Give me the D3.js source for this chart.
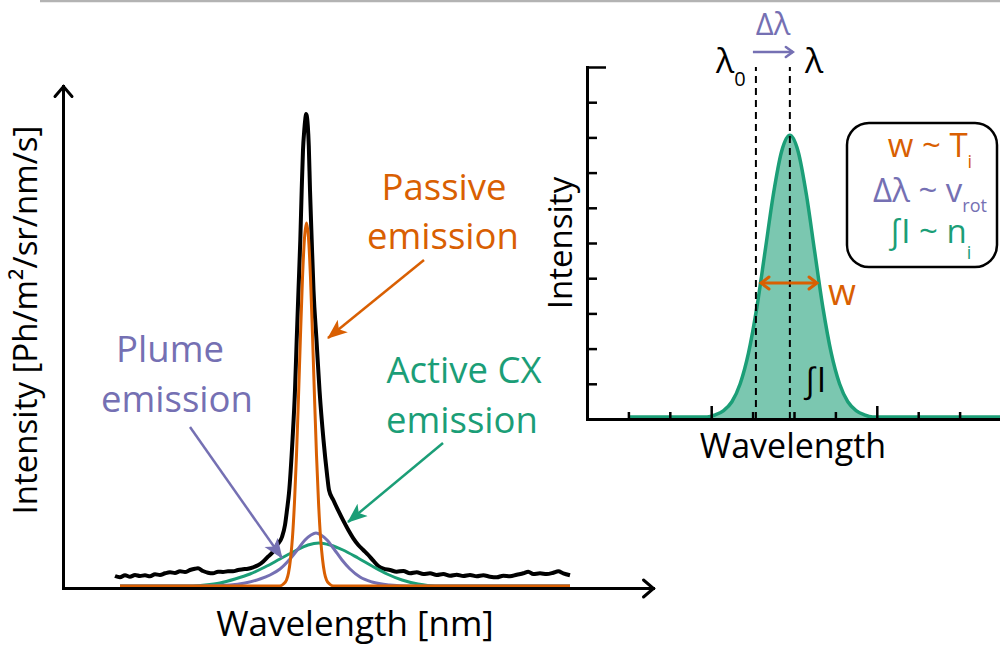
<!DOCTYPE html>
<html>
<head>
<meta charset="utf-8">
<script src="https://cdn.jsdelivr.net/npm/d3@7"></script>
<style>
  body { margin: 0; background: #fff; }
  svg text { font-family: "Open Sans", "DejaVu Sans", sans-serif; }
</style>
</head>
<body>
<script>
// ColorBrewer Dark2
var orange = "#d95f02", green = "#1b9e77", purple = "#7570b3";

// ---- left panel: measured spectrum + its three components, [wavelength, intensity] (arb. units)
var measured = [[50,10],[55,8.7],[60,10.7],[65,9.3],[70,11],[75,10],[80,10.7],[85,9.7],[90,11.7],[95,11],
  [100,12.7],[105,13.7],[110,13],[115,14.7],[120,14],[125,16],[130,17.3],[133,17.7],[138,15],[143,13.3],
  [148,12.7],[153,14.3],[158,14],[163,14.7],[168,14.7],[173,16],[178,16.7],[183,17.3],[188,18.7],[193,20.7],
  [198,24.3],[203,29.3],[208,34.3],[212,41],[217,49],[220,61],[222,76],[224,93],[227.5,146],[230,196],
  [231.7,246],[233.5,296],[235.3,346],[236.7,396],[238,436],[239.3,456],[240.3,467],[241,472],[241.8,470],
  [242.8,460],[243.8,440],[245,396],[246.7,346],[248.5,296],[251.5,246],[254.5,196],[258.5,146],[262,112],
  [264,96],[268.3,86],[273.3,75.3],[278.3,65.3],[283.3,56],[288.3,47.7],[293.3,41],[298.3,36],[303.3,31],
  [308.3,25.3],[313.3,20],[318.3,17.3],[325,16],[331.7,14.3],[338.3,15],[345,12.7],[351.7,13.7],[358.3,12],
  [365,12.7],[371.7,11],[378.3,12],[385,10.3],[391.7,11.3],[398.3,10],[405,11],[411.7,9.7],[418.3,10.7],
  [425,9.3],[431.7,8.7],[438.3,10.3],[445,9.7],[451.7,11.3],[458.3,12.7],[463.3,14.3],[468.3,12],[475,12.7],
  [481.7,12],[488.3,13.3],[493.3,14.7],[498.3,12.7],[505,10.7]];

var passive = [[55,0],[200,0],[214.5,0],[218.5,2],[221.5,6],[223.5,13],[225.5,27],[227.5,49],[229.5,84],
  [231.5,131],[233.5,189],[235.5,251],[237.5,308],[239.5,348],[241.5,363],[243.5,348],[245.5,308],
  [247.5,251],[249.5,189],[251.5,131],[253.5,84],[255.5,49],[257.5,27],[259.5,13],[261.5,6],[264.5,2],
  [268.5,0],[505,0]];

var plume = [[55,0],[135,0],[165,1],[180,3],[195,7],[205,11],[215,17],[225,27],[233,37],[240,46],[246,51],
  [251,53],[256,51],[262,46],[269,37],[277,26],[285,17],[295,9],[307,4],[325,1],[345,0],[505,0]];

var activeCX = [[55,0],[125,0],[140,1],[155,3],[170,7],[185,12],[200,19],[215,27],[230,35],[243,41],
  [254,43],[265,41],[278,36],[293,28],[307,20],[322,12],[337,6],[353,2],[370,0],[505,0]];

// ---- right panel: single gaussian sketch
var gaussX = [1.0, 2.9, 3.1, 3.3, 3.5, 3.7, 3.9, 4.1, 4.3, 4.5, 4.7, 4.9, 5.1, 5.3, 5.5, 5.7, 5.9, 6.1, 6.3, 6.5, 6.7, 6.9, 10.0];
var gaussY = [0.06, 0.06, 0.12, 0.24, 0.49, 1.00, 1.87, 3.15, 4.75, 6.37, 7.60, 8.06, 7.60, 6.37, 4.75, 3.15, 1.87, 1.00, 0.49, 0.24, 0.12, 0.06, 0.06];
var lambda0 = 4.08, lambdaShift = 4.9;
var rightYTicks = [1, 2, 3, 4, 5, 6, 7, 8, 9, 10];
var rightXTicks = [1, 2, 3, 4, 5, 6, 7, 8, 9];
var rightXMajor = [3, 7];

var svg = d3.select("body").append("svg")
    .attr("width", 1000)
    .attr("height", 645);

// top rule
svg.append("line").attr("x1", 40).attr("x2", 1000).attr("y1", 1).attr("y2", 1)
    .attr("stroke", "#b3b3b3").attr("stroke-width", 2.5);

var defs = svg.append("defs");

function chevron(id, color, len, half, sw) {
  defs.append("marker").attr("id", id)
    .attr("markerUnits", "userSpaceOnUse")
    .attr("viewBox", [-sw, -half - sw, len + 2 * sw, 2 * half + 2 * sw].join(" "))
    .attr("markerWidth", len + 2 * sw).attr("markerHeight", 2 * half + 2 * sw)
    .attr("refX", len).attr("refY", 0)
    .attr("orient", "auto-start-reverse")
    .append("path").attr("d", "M0," + (-half) + "L" + len + ",0L0," + half)
    .attr("fill", "none").attr("stroke", color).attr("stroke-width", sw)
    .attr("stroke-linecap", "round");
}
function triHead(id, color) {
  defs.append("marker").attr("id", id)
    .attr("markerUnits", "userSpaceOnUse")
    .attr("viewBox", "0 -9 20 18").attr("markerWidth", 20).attr("markerHeight", 18)
    .attr("refX", 19).attr("refY", 0).attr("orient", "auto")
    .append("path").attr("d", "M0,-8L20,0L0,8L5,0Z").attr("fill", color);
}
chevron("axisArrow", "#000", 10, 8.5, 3);
chevron("purpleChev", purple, 7, 5, 2.5);
chevron("orangeChev", orange, 8, 6, 3);
triHead("triOrange", orange);
triHead("triPurple", purple);
triHead("triGreen", green);

// ================= left panel =================
var xL = d3.scaleLinear().domain([-2, 588]).range([63, 653]);
var yL = d3.scaleLinear().domain([-2, 500]).range([588, 86]);

var lineL = d3.line()
    .x(function(d) { return xL(d[0]); })
    .y(function(d) { return yL(d[1]); })
    .curve(d3.curveMonotoneX);

function drawSpectrum(data, color, w) {
  svg.append("path").datum(data)
    .attr("d", lineL)
    .attr("fill", "none")
    .attr("stroke", color)
    .attr("stroke-width", w)
    .attr("stroke-linejoin", "round");
}
drawSpectrum(measured, "#000", 4);
drawSpectrum(activeCX, green, 3);
drawSpectrum(plume, purple, 3);
drawSpectrum(passive, orange, 3);

var gxL = svg.append("g").attr("transform", "translate(0,588)")
    .call(d3.axisBottom(xL).ticks(0).tickSizeOuter(0));
var gyL = svg.append("g").attr("transform", "translate(63,0)")
    .call(d3.axisLeft(yL).ticks(0).tickSizeOuter(0));
[gxL, gyL].forEach(function(g) {
  g.select(".domain").attr("stroke-width", 3).attr("stroke-linecap", "square")
    .attr("marker-end", "url(#axisArrow)");
});

svg.append("text").attr("x", 355).attr("y", 636).attr("text-anchor", "middle")
    .attr("font-size", 35).text("Wavelength [nm]");
svg.append("text").attr("transform", "translate(37,320) rotate(-90)").attr("text-anchor", "middle")
    .attr("font-size", 33).text("Intensity [Ph/m\u00b2/sr/nm/s]");

function label(lines, color) {
  lines.forEach(function(l) {
    svg.append("text").attr("x", l[0]).attr("y", l[1]).attr("text-anchor", "middle")
      .attr("font-size", 36.5).attr("fill", color).text(l[2]);
  });
}
label([[444, 200, "Passive"], [443, 249, "emission"]], orange);
label([[170, 362, "Plume"], [177, 412, "emission"]], purple);
label([[464, 383, "Active CX"], [462, 433, "emission"]], green);

function pointer(x1, y1, x2, y2, color, marker) {
  svg.append("line").attr("x1", x1).attr("y1", y1).attr("x2", x2).attr("y2", y2)
    .attr("stroke", color).attr("stroke-width", 2.5)
    .attr("marker-end", "url(#" + marker + ")");
}
pointer(424, 260, 328, 338, orange, "triOrange");
pointer(190, 427, 282, 558, purple, "triPurple");
pointer(443, 443, 348, 522, green, "triGreen");

// ================= right panel =================
var xR = d3.scaleLinear().domain([0, 10]).range([587, 1001]);
var yR = d3.scaleLinear().domain([0, 10]).range([419, 67]);

var gauss = gaussX.map(function(x, i) { return [x, gaussY[i]]; });

svg.append("path").datum(gauss)
    .attr("d", d3.area()
      .x(function(d) { return xR(d[0]); })
      .y0(yR(0))
      .y1(function(d) { return yR(d[1]); })
      .curve(d3.curveMonotoneX))
    .attr("fill", green).attr("fill-opacity", 0.58);
svg.append("path").datum(gauss)
    .attr("d", d3.line()
      .x(function(d) { return xR(d[0]); })
      .y(function(d) { return yR(d[1]); })
      .curve(d3.curveMonotoneX))
    .attr("fill", "none").attr("stroke", green).attr("stroke-width", 3.5);

[lambda0, lambdaShift].forEach(function(l) {
  svg.append("line").attr("x1", xR(l)).attr("x2", xR(l)).attr("y1", yR(0)).attr("y2", yR(10))
    .attr("stroke", "#000").attr("stroke-width", 2).attr("stroke-dasharray", "7,5");
});

var gyR = svg.append("g").attr("transform", "translate(587,0)")
    .call(d3.axisLeft(yR).tickValues(rightYTicks).tickSize(-10).tickSizeOuter(0).tickFormat(""));
gyR.selectAll(".tick line").attr("stroke-width", 2.5)
    .attr("x2", function(d) { return d === 10 ? 19 : 10; });
var gxR = svg.append("g").attr("transform", "translate(0,419)")
    .call(d3.axisBottom(xR).tickValues(rightXTicks).tickSize(-7).tickSizeOuter(0).tickFormat(""));
gxR.selectAll(".tick line").attr("stroke-width", 2.5)
    .attr("y2", function(d) { return rightXMajor.indexOf(d) >= 0 ? -13 : -7; });
[gxR, gyR].forEach(function(g) {
  g.select(".domain").attr("stroke-width", 3).attr("stroke-linecap", "square");
});

// shift annotation
svg.append("text").attr("x", 773).attr("y", 35).attr("text-anchor", "middle")
    .attr("font-size", 31).attr("fill", purple).text("\u0394\u03bb");
svg.append("line").attr("x1", xR(lambda0) - 3).attr("x2", xR(lambdaShift) + 3).attr("y1", 52).attr("y2", 52)
    .attr("stroke", purple).attr("stroke-width", 2.5).attr("marker-end", "url(#purpleChev)");
var l0 = svg.append("text").attr("x", 716).attr("y", 73).attr("font-size", 34);
l0.append("tspan").text("\u03bb");
l0.append("tspan").attr("font-size", 20).attr("dy", 13).text("0");
svg.append("text").attr("x", 814).attr("y", 73).attr("text-anchor", "middle")
    .attr("font-size", 34).text("\u03bb");

// width annotation
svg.append("line").attr("x1", 761).attr("x2", 817).attr("y1", 283).attr("y2", 283)
    .attr("stroke", orange).attr("stroke-width", 3)
    .attr("marker-start", "url(#orangeChev)").attr("marker-end", "url(#orangeChev)");
svg.append("text").attr("x", 842).attr("y", 305).attr("text-anchor", "middle")
    .attr("font-size", 36).attr("fill", orange).text("w");
svg.append("text").attr("x", 815).attr("y", 392).attr("text-anchor", "middle")
    .attr("font-size", 34).text("\u222bI");

// legend box
svg.append("rect").attr("x", 847).attr("y", 123).attr("width", 150).attr("height", 144)
    .attr("rx", 22).attr("fill", "none").attr("stroke", "#000").attr("stroke-width", 2.5);
function boxLine(y, main, sub, color, subDy) {
  var t = svg.append("text").attr("x", 930).attr("y", y).attr("text-anchor", "middle")
    .attr("font-size", 33).attr("fill", color);
  t.append("tspan").text(main);
  t.append("tspan").attr("font-size", 18).attr("dy", subDy).text(sub);
}
boxLine(157, "w ~ T", "i", orange, 11);
boxLine(202, "\u0394\u03bb ~ v", "rot", purple, 10);
boxLine(243, "\u222bI ~ n", "i", green, 16);

svg.append("text").attr("transform", "translate(572,243) rotate(-90)").attr("text-anchor", "middle")
    .attr("font-size", 33).text("Intensity");
svg.append("text").attr("x", 793).attr("y", 458).attr("text-anchor", "middle")
    .attr("font-size", 34).text("Wavelength");
</script>
</body>
</html>
